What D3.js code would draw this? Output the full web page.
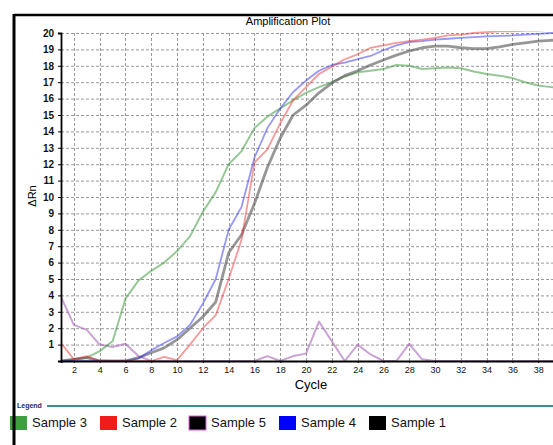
<!DOCTYPE html>
<html>
<head>
<meta charset="utf-8">
<script src="https://cdn.jsdelivr.net/npm/d3@7"></script>
<style>
  body { margin: 0; background: #fff; }
  svg { display: block; font-family: "Liberation Sans", Arial, sans-serif; }
</style>
</head>
<body>
<div id="vis"></div>
<script>
// datos
const cycles = [1, 2, 3, 4, 5, 6, 7, 8, 9, 10, 11, 12, 13, 14, 15, 16, 17, 18, 19, 20,
  21, 22, 23, 24, 25, 26, 27, 28, 29, 30, 31, 32, 33, 34, 35, 36, 37, 38, 39, 40];

const sample3 = [0.0, 0.1, 0.2, 0.6, 1.2, 3.8, 4.9, 5.5, 6.0, 6.7, 7.6, 9.1, 10.3, 12.0, 12.8, 14.2, 14.9, 15.4, 15.9, 16.35,
  16.7, 17.0, 17.35, 17.6, 17.7, 17.8, 18.05, 18.0, 17.8, 17.85, 17.9, 17.85, 17.65, 17.5, 17.4, 17.25, 17.0, 16.8, 16.7, 16.65];
const sample2 = [1.1, 0.1, 0.3, 0.0, 0.0, 0.0, 0.0, 0.0, 0.25, 0.05, 1.0, 2.0, 2.8, 5.0, 7.4, 12.1, 12.9, 14.5, 15.9, 16.7,
  17.5, 17.95, 18.4, 18.7, 19.1, 19.25, 19.4, 19.5, 19.6, 19.7, 19.85, 19.9, 20.0, 20.05, 20.1, 20.1, 20.15, 20.15, 20.2, 20.2];
const sample5 = [3.9, 2.2, 1.9, 1.0, 0.85, 1.05, 0.3, 0.0, 0.0, 0.0, 0.0, 0.0, 0.0, 0.0, 0.0, 0.0, 0.3, 0.0, 0.3, 0.45,
  2.4, 1.2, 0.0, 1.0, 0.4, 0.0, 0.0, 1.05, 0.1, 0.0, 0.0, 0.0, 0.0, 0.0, 0.0, 0.0, 0.0, 0.0, 0.0, 0.0];
const sample4 = [0.0, 0.0, 0.0, 0.02, 0.0, 0.0, 0.15, 0.65, 1.1, 1.5, 2.2, 3.5, 5.0, 8.0, 9.4, 12.4, 14.2, 15.4, 16.4, 17.1,
  17.7, 18.05, 18.2, 18.4, 18.6, 18.95, 19.25, 19.45, 19.5, 19.6, 19.65, 19.7, 19.75, 19.8, 19.82, 19.85, 19.9, 19.95, 20.0, 20.0];
const sample1 = [0.0, 0.1, 0.2, 0.0, 0.0, 0.0, 0.2, 0.5, 0.8, 1.3, 2.0, 2.7, 3.6, 6.6, 7.7, 9.6, 11.8, 13.6, 15.0, 15.6,
  16.35, 16.95, 17.4, 17.7, 18.05, 18.35, 18.65, 18.9, 19.1, 19.2, 19.2, 19.1, 19.05, 19.05, 19.15, 19.3, 19.4, 19.5, 19.55, 19.6];

const yTicks = [1, 2, 3, 4, 5, 6, 7, 8, 9, 10, 11, 12, 13, 14, 15, 16, 17, 18, 19, 20];
const xTicks = [2, 4, 6, 8, 10, 12, 14, 16, 18, 20, 22, 24, 26, 28, 30, 32, 34, 36, 38];

const legendNames = ["Sample 3", "Sample 2", "Sample 5", "Sample 4", "Sample 1"];
const legendColors = ["#3f9f3f", "#ee1c1c", "#000000", "#0000ff", "#000000"];

// orden de dibujo y estilo de cada curva
const curves = [
  { values: sample5, color: "#a866b8", width: 2, opacity: 0.6 },
  { values: sample3, color: "#3f9a3f", width: 2, opacity: 0.55 },
  { values: sample1, color: "#505050", width: 2.8, opacity: 0.6 },
  { values: sample4, color: "#3030f0", width: 1.8, opacity: 0.5 },
  { values: sample2, color: "#f02020", width: 1.8, opacity: 0.45 }
];

const width = 553;
const height = 445;

const x = d3.scaleLinear().domain([1, 40]).range([61, 564]);
const y = d3.scaleLinear().domain([0, 20]).range([361, 33]);

const svg = d3.select("#vis")
  .append("svg")
  .attr("width", width)
  .attr("height", height);

svg.append("defs").append("clipPath")
  .attr("id", "plotClip")
  .append("rect")
  .attr("x", 61)
  .attr("y", 31)
  .attr("width", width - 61)
  .attr("height", 330);

// marco
svg.append("line")
  .attr("x1", 14).attr("x2", width)
  .attr("y1", 15).attr("y2", 15)
  .attr("stroke", "#000").attr("stroke-width", 2.5);

// titulo
svg.append("text")
  .attr("x", 288)
  .attr("y", 25)
  .attr("text-anchor", "middle")
  .attr("font-size", 11)
  .text("Amplification Plot");

// rejilla
const grid = svg.append("g").attr("stroke", "#9a9a9a").attr("stroke-dasharray", "3,2");

grid.selectAll("line.h")
  .data(yTicks)
  .enter()
  .append("line")
  .attr("class", "h")
  .attr("x1", x(1)).attr("x2", width)
  .attr("y1", (d) => y(d) + 0.5).attr("y2", (d) => y(d) + 0.5);

grid.selectAll("line.v")
  .data(xTicks)
  .enter()
  .append("line")
  .attr("class", "v")
  .attr("x1", (d) => Math.round(x(d)) + 0.5).attr("x2", (d) => Math.round(x(d)) + 0.5)
  .attr("y1", y(20)).attr("y2", y(0));

// curvas
const line = d3.line()
  .x((d, i) => x(cycles[i]))
  .y((d) => y(d));

svg.append("g")
  .attr("clip-path", "url(#plotClip)")
  .selectAll("path")
  .data(curves)
  .enter()
  .append("path")
  .attr("d", (d) => line(d.values))
  .attr("fill", "none")
  .attr("stroke", (d) => d.color)
  .attr("stroke-width", (d) => d.width)
  .attr("stroke-opacity", (d) => d.opacity)
  .attr("stroke-linejoin", "round");

// ejes (encima de las curvas)
const yAxis = svg.append("g")
  .attr("transform", `translate(${x(1)},0)`)
  .call(d3.axisLeft(y).tickValues(yTicks).tickSize(3).tickPadding(4));

const xAxis = svg.append("g")
  .attr("transform", `translate(0,${y(0)})`)
  .call(d3.axisBottom(x).tickValues(xTicks).tickSize(2).tickPadding(4));

[yAxis, xAxis].forEach((ax) => {
  ax.select(".domain").attr("stroke", "#000").attr("stroke-width", 1.8);
  ax.selectAll(".tick line").attr("stroke", "#000");
  ax.selectAll("text")
    .attr("fill", "#111")
    .attr("font-family", "Liberation Sans, Arial, sans-serif");
});
yAxis.selectAll("text").attr("font-size", 10).attr("font-weight", "bold");
xAxis.selectAll("text").attr("font-size", 9);

// etiquetas de ejes
svg.append("text")
  .attr("transform", "translate(36,196) rotate(-90)")
  .attr("text-anchor", "middle")
  .attr("font-size", 11)
  .text("\u0394Rn");

svg.append("text")
  .attr("x", 311)
  .attr("y", 389)
  .attr("text-anchor", "middle")
  .attr("font-size", 13)
  .text("Cycle");

// leyenda
svg.append("text")
  .attr("x", 17)
  .attr("y", 408)
  .attr("font-size", 7)
  .attr("font-weight", "bold")
  .attr("fill", "#1a2a6a")
  .text("Legend");

svg.append("line")
  .attr("x1", 47).attr("x2", width)
  .attr("y1", 406).attr("y2", 406)
  .attr("stroke", "#3b8f8f").attr("stroke-width", 2);

const legendX = [10, 100, 189, 279, 369];

const legend = svg.selectAll("g.legend")
  .data(legendNames)
  .enter()
  .append("g")
  .attr("class", "legend")
  .attr("transform", (_d, i) => `translate(${legendX[i]},416)`);

legend.append("rect")
  .attr("width", 17)
  .attr("height", 14)
  .attr("fill", (_d, i) => legendColors[i])
  .attr("stroke", (_d, i) => (i === 2 ? "#e060e0" : "none"))
  .attr("stroke-width", 1);

legend.append("text")
  .attr("x", 22)
  .attr("y", 11)
  .attr("font-size", 13)
  .attr("fill", "#111")
  .text((d) => d);

// borde izquierdo del marco
svg.append("line")
  .attr("x1", 14).attr("x2", 14)
  .attr("y1", 14).attr("y2", height)
  .attr("stroke", "#000").attr("stroke-width", 3);
</script>
</body>
</html>
